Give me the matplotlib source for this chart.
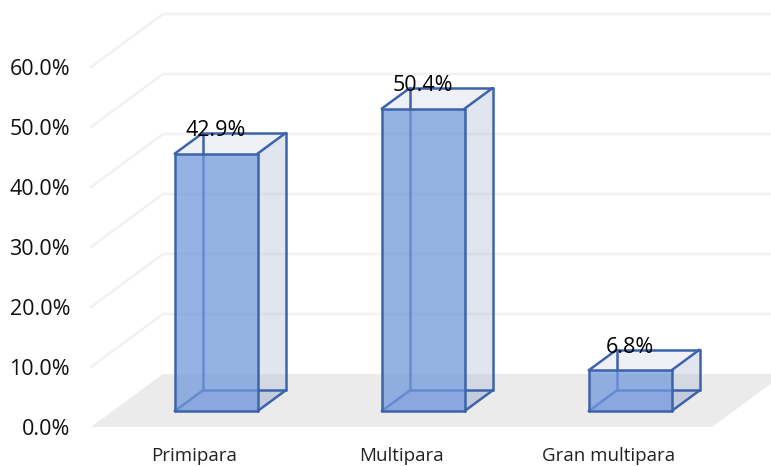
import matplotlib
matplotlib.use("Agg")
import matplotlib.pyplot as plt

plt.rcParams['font.family'] = ['Open Sans', 'DejaVu Sans']

categories = ["Primipara", "Multipara", "Gran multipara"]
values = [42.9, 50.4, 6.8]
labels = ["42.9%", "50.4%", "6.8%"]
y_ticks = [0, 10, 20, 30, 40, 50, 60]
y_tick_labels = ["0.0%", "10.0%", "20.0%", "30.0%", "40.0%", "50.0%", "60.0%"]

W, H = 771, 466
# depth of the fake 3d box, in data units (72 px right, 53 px up)
DX = 72 / 207
DY = 53 / 6
BAR_W = 0.40
FRONT = 0.30
BACK = 0.69
EDGE = "#3c64aa"


def proj(x, y, d):
    return x + d * DX, y + d * DY


def face(ax, pts, color, z, alpha=1.0):
    xs = [p[0] for p in pts]
    ys = [p[1] for p in pts]
    ax.fill(xs, ys, color=color, alpha=alpha, lw=0, zorder=z, clip_on=False)


def edge(ax, p1, p2, z):
    ax.plot([p1[0], p2[0]], [p1[1], p2[1]], color=EDGE, lw=1.8, zorder=z,
            clip_on=False, solid_capstyle="round")


fig = plt.figure(figsize=(W / 100, H / 100), dpi=100)
ax = fig.add_axes([91 / W, (H - 427) / H, 621 / W, 360 / H])
ax.set_xlim(0, 3)
ax.set_ylim(0, 60)
for s in ax.spines.values():
    s.set_visible(False)

# floor
face(ax, [proj(0, 0, 0), proj(3, 0, 0), proj(3, 0, 1), proj(0, 0, 1)], "#ebebeb", 1)

# gridlines on the left wall and the back wall
for t in y_ticks[1:]:
    a = proj(0, t, 0)
    b = proj(0, t, 1)
    c = proj(3, t, 1)
    ax.plot([a[0], b[0], c[0]], [a[1], b[1], c[1]], color="#f2f2f2", lw=1.8,
            zorder=1, clip_on=False)

for i, v in enumerate(values):
    x0 = i + 0.5 - BAR_W / 2
    x1 = i + 0.5 + BAR_W / 2
    fbl = proj(x0, 0, FRONT)
    fbr = proj(x1, 0, FRONT)
    ftl = proj(x0, v, FRONT)
    ftr = proj(x1, v, FRONT)
    bbl = proj(x0, 0, BACK)
    bbr = proj(x1, 0, BACK)
    btl = proj(x0, v, BACK)
    btr = proj(x1, v, BACK)

    # side and top are almost see through, front is the strong one
    face(ax, [fbr, bbr, btr, ftr], "#a9b6d2", 2, 0.35)
    face(ax, [ftl, ftr, btr, btl], "#d5dbe9", 2, 0.4)
    face(ax, [fbl, fbr, bbr, bbl], "#a9b6d2", 2, 0.35)

    # hidden edges first
    for p, q in [(bbl, btl), (bbl, bbr), (bbl, fbl)]:
        edge(ax, p, q, 3)

    face(ax, [fbl, fbr, ftr, ftl], "#7298dc", 4, 0.75)

    for p, q in [(fbl, fbr), (fbr, ftr), (ftr, ftl), (ftl, fbl), (fbr, bbr),
                 (bbr, btr), (btr, ftr), (btr, btl), (btl, ftl)]:
        edge(ax, p, q, 5)

    ax.annotate(labels[i], proj(i + 0.5, v, FRONT), xytext=(0, 16.5),
                textcoords="offset points", ha="center", va="center",
                fontsize=15.5, color="black", zorder=6, annotation_clip=False)

ax.set_yticks(y_ticks)
ax.set_yticklabels(y_tick_labels, fontsize=15.5, color="#111111", va="center_baseline")
ax.set_xticks([0.5, 1.5, 2.5])
ax.set_xticklabels(categories, fontsize=13.5, color="#222222")
ax.tick_params(axis="y", length=0, pad=15)
ax.tick_params(axis="x", length=0, pad=14.5)

fig.savefig("out.png", dpi=100)
